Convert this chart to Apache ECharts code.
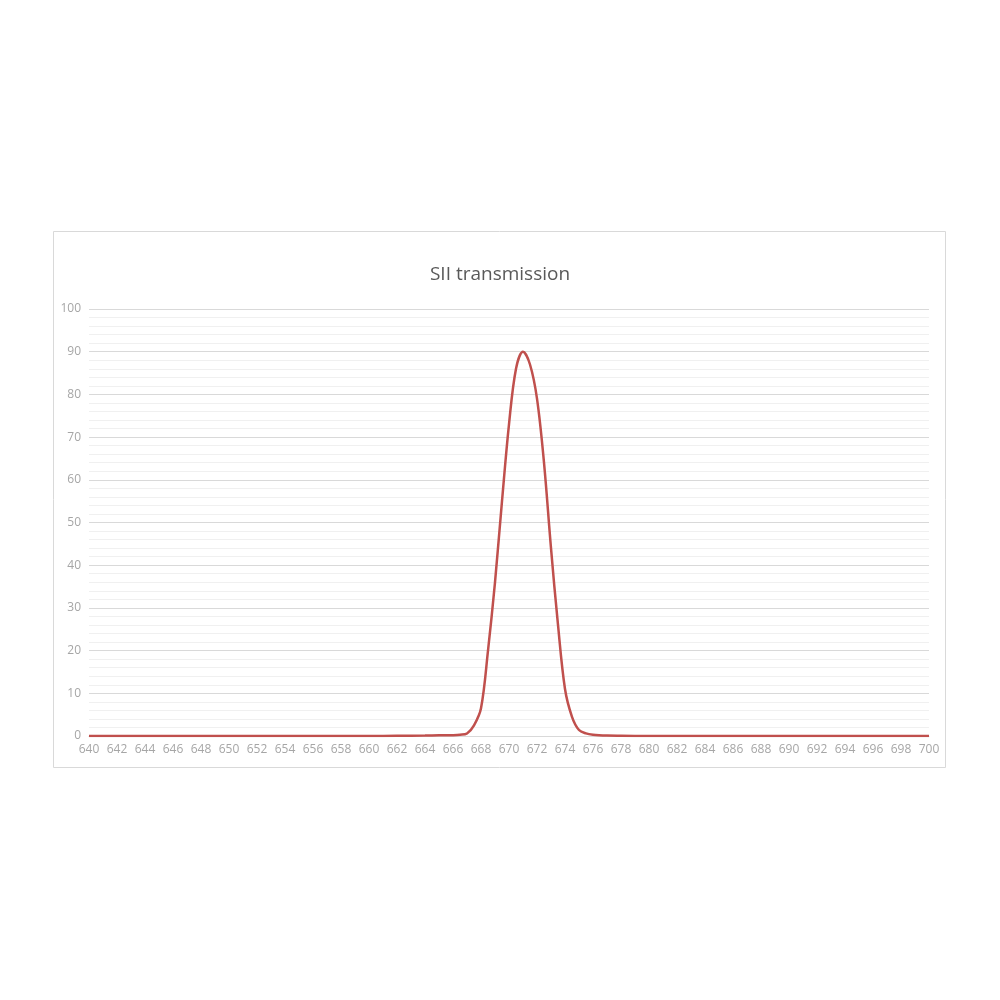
<!DOCTYPE html>
<html><head><meta charset="utf-8">
<script src="https://cdn.jsdelivr.net/npm/echarts@6/dist/echarts.min.js"></script>
<style>html,body{margin:0;padding:0;background:#fff;}#c{width:1000px;height:1000px;}</style>
</head><body><div id="c"></div>
<script>
const titleText = "SII transmission";
const wavelengths = [640,645,650,655,660,662,664,665,666,666.5,667,667.5,668,668.5,669,669.5,670,670.5,671,671.5,672,672.5,673,673.5,674,674.5,675,675.5,676,677,678,680,685,690,695,700];
const transmission = [0,0,0,0,0,0.05,0.1,0.15,0.2,0.3,0.6,2.5,6.5,20,36,55,73,86,90,87,79,64,44,26,11,4.5,1.4,0.6,0.3,0.1,0.05,0,0,0,0,0];
const xTicks = {min:640, max:700, interval:2};
const yTicks = {min:0, max:100, interval:10};

const seriesData = wavelengths.map((w,i)=>[w, transmission[i]]);
const chart = echarts.init(document.getElementById('c'), null, {renderer:'canvas'});
chart.setOption({
  backgroundColor:'#ffffff',
  animation:false,
  graphic:[{type:'rect', shape:{x:53.5,y:231.5,width:892,height:536}, style:{fill:'none', stroke:'#d9d9d9', lineWidth:1}, z:-1}],
  title:{text:titleText, left:'center', top:260, textStyle:{fontFamily:'Open Sans', fontSize:19, fontWeight:'normal', color:'#595959'}},
  grid:{left:89, right:71, top:309, bottom:264, containLabel:false},
  xAxis:{type:'value', min:xTicks.min, max:xTicks.max, interval:xTicks.interval,
    axisLine:{show:true, lineStyle:{color:'#d9d9d9'}}, axisTick:{show:false}, splitLine:{show:false},
    axisLabel:{color:'#a6a6a6', fontSize:12, fontFamily:'Open Sans', margin:8}},
  yAxis:{type:'value', min:yTicks.min, max:yTicks.max, interval:yTicks.interval,
    axisLine:{show:false}, axisTick:{show:false},
    axisLabel:{color:'#a6a6a6', fontSize:12, fontFamily:'Open Sans', margin:8},
    splitLine:{show:true, lineStyle:{color:'#d9d9d9', width:1}},
    minorTick:{show:false, splitNumber:5},
    minorSplitLine:{show:true, lineStyle:{color:'#f0f0f0', width:1}}},
  series:[{type:'line', data:seriesData, smooth:0.35, showSymbol:false,
    lineStyle:{color:'#c0504d', width:2.5}, itemStyle:{color:'#c0504d'}}]
});
</script></body></html>
